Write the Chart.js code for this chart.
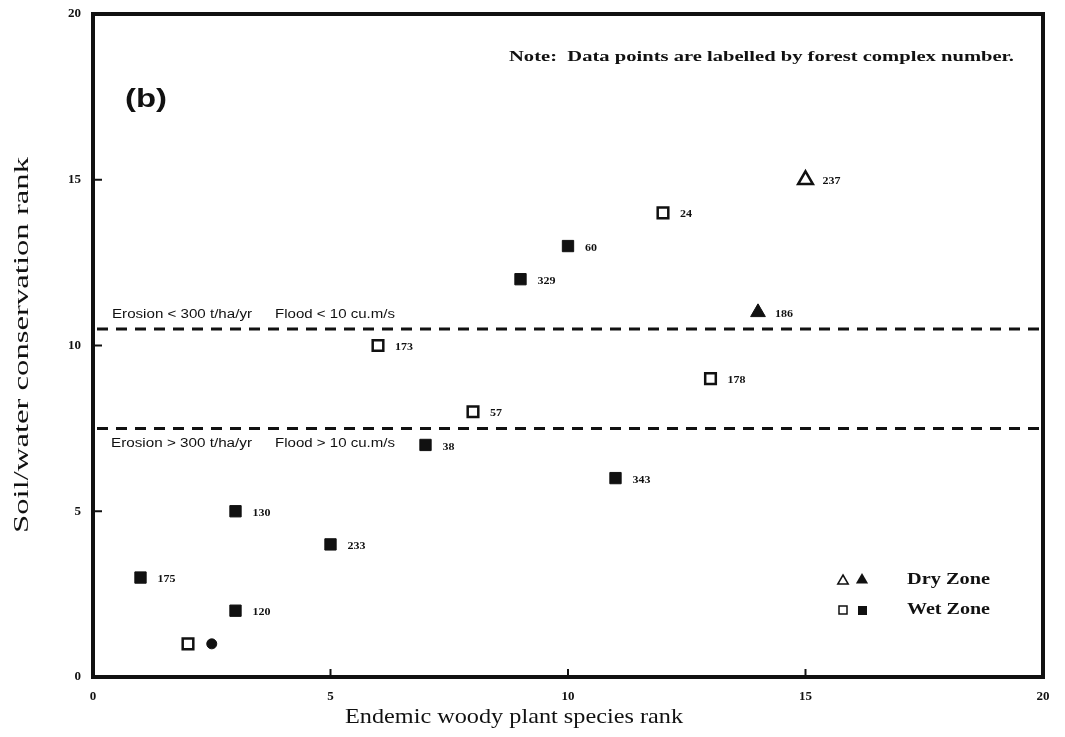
<!DOCTYPE html>
<html>
<head>
<meta charset="utf-8">
<script src="https://cdn.jsdelivr.net/npm/chart.js@4/dist/chart.umd.min.js"></script>
<style>
  html, body { margin: 0; padding: 0; background: #fff; }
  #wrap { width: 1065px; height: 737px; }
</style>
</head>
<body>
<div id="wrap"><canvas id="rankChart" width="1065" height="737"></canvas></div>
<script>
// Forest complexes: x = endemic woody plant species rank, y = soil/water conservation rank
const wetSolidX = [1, 3, 3, 5, 7, 9, 10, 11];
const wetSolidY = [3, 2, 5, 4, 7, 12, 13, 6];
const wetSolidLabels = ['175', '120', '130', '233', '38', '329', '60', '343'];

const wetOpenX = [2, 6, 8, 12, 13];
const wetOpenY = [1, 10, 8, 14, 9];
const wetOpenLabels = ['', '173', '57', '24', '178'];

const drySolidX = [14];
const drySolidY = [11];
const drySolidLabels = ['186'];

const dryOpenX = [15];
const dryOpenY = [15];
const dryOpenLabels = ['237'];

// unlabelled dark blob next to the open square at rank 1
const blobX = [2.5];
const blobY = [1];

const axisTicks = [0, 5, 10, 15, 20];
const upperThreshold = 10.5;
const lowerThreshold = 7.5;

const INK = '#111';
const SERIF = '"Liberation Serif", "DejaVu Serif", serif';
const SANS = '"Liberation Sans", Arial, sans-serif';

const toPoints = (xs, ys) => xs.map((x, i) => ({ x: x, y: ys[i] }));

/**
 * Draw text stretched horizontally so it covers a given width
 * (the scanned original uses a wide face)
 */
const fitText = (ctx, text, x, y, width, align = 'left') => {
  const w = ctx.measureText(text).width;
  ctx.save();
  ctx.translate(x, y);
  ctx.scale(width / w, 1);
  ctx.textAlign = align;
  ctx.fillText(text, 0, 0);
  ctx.restore();
};

/**
 * Frame, inward ticks, threshold lines and all the loose text
 */
const decorations = {
  id: 'decorations',
  afterDraw(chart) {
    const { ctx, chartArea: area, scales } = chart;
    const xs = scales.x;
    const ys = scales.y;
    ctx.save();

    // thick frame
    ctx.strokeStyle = INK;
    ctx.lineWidth = 4;
    ctx.strokeRect(area.left, area.top, area.right - area.left, area.bottom - area.top);

    // small inward tick marks
    ctx.lineWidth = 2;
    [5, 10, 15].forEach(v => {
      const px = xs.getPixelForValue(v);
      ctx.beginPath();
      ctx.moveTo(px, area.bottom);
      ctx.lineTo(px, area.bottom - 8);
      ctx.stroke();
      const py = ys.getPixelForValue(v);
      ctx.beginPath();
      ctx.moveTo(area.left, py);
      ctx.lineTo(area.left + 9, py);
      ctx.stroke();
    });

    // dashed threshold lines
    ctx.lineWidth = 3;
    ctx.setLineDash([11, 8]);
    [upperThreshold, lowerThreshold].forEach(v => {
      const py = ys.getPixelForValue(v);
      ctx.beginPath();
      ctx.moveTo(area.left + 4, py);
      ctx.lineTo(area.right, py);
      ctx.stroke();
    });
    ctx.setLineDash([]);

    // threshold captions
    ctx.fillStyle = INK;
    ctx.textBaseline = 'middle';
    ctx.textAlign = 'left';
    ctx.font = '12px ' + SANS;
    const upY = ys.getPixelForValue(upperThreshold) - 14;
    const loY = ys.getPixelForValue(lowerThreshold) + 15;
    fitText(ctx, 'Erosion < 300 t/ha/yr', 112, upY, 140);
    fitText(ctx, 'Flood < 10 cu.m/s', 275, upY, 120);
    fitText(ctx, 'Erosion > 300 t/ha/yr', 111, loY, 141);
    fitText(ctx, 'Flood > 10 cu.m/s', 275, loY, 120);

    // point labels
    ctx.font = 'bold 10px ' + SERIF;
    const labelSets = [[0, wetSolidLabels], [1, wetOpenLabels], [2, drySolidLabels], [3, dryOpenLabels]];
    labelSets.forEach(([idx, labels]) => {
      chart.getDatasetMeta(idx).data.forEach((pt, i) => {
        if (labels[i]) fitText(ctx, labels[i], pt.x + 17, pt.y + 2, labels[i].length * 6);
      });
    });

    // panel letter and note
    ctx.font = 'bold 25px ' + SANS;
    fitText(ctx, '(b)', 125, 100, 42);
    ctx.font = 'bold 15px ' + SERIF;
    fitText(ctx, 'Note:  Data points are labelled by forest complex number.', 509, 57, 505);

    // legend
    const drawTri = (x, y, r, filled) => {
      ctx.beginPath();
      ctx.moveTo(x, y - r);
      ctx.lineTo(x + r * 0.87, y + r * 0.5);
      ctx.lineTo(x - r * 0.87, y + r * 0.5);
      ctx.closePath();
      if (filled) ctx.fill(); else ctx.stroke();
    };
    ctx.lineWidth = 1.5;
    drawTri(843, 581, 6, false);
    drawTri(862, 580, 7, true);
    ctx.strokeRect(839, 606, 8, 8);
    ctx.fillRect(858, 606, 9, 9);
    ctx.font = 'bold 16px ' + SERIF;
    fitText(ctx, 'Dry Zone', 907, 580, 83);
    fitText(ctx, 'Wet Zone', 907, 610, 83);

    // axis titles, x one set a bit left of centre like the original
    ctx.font = '21px ' + SERIF;
    fitText(ctx, 'Endemic woody plant species rank', 514, 717, 338, 'center');
    ctx.save();
    ctx.translate(22, 345);
    ctx.rotate(-Math.PI / 2);
    fitText(ctx, 'Soil/water conservation rank', 0, 0, 376, 'center');
    ctx.restore();

    ctx.restore();
  }
};

const tickFont = { family: SERIF, size: 13, weight: 'bold' };

const rankChart = new Chart(document.getElementById('rankChart').getContext('2d'), {
  type: 'scatter',
  data: {
    datasets: [
      {
        label: 'Wet Zone (solid)',
        data: toPoints(wetSolidX, wetSolidY),
        pointStyle: 'rect',
        pointRadius: 8,
        backgroundColor: INK,
        borderColor: INK,
        borderWidth: 1
      },
      {
        label: 'Wet Zone (open)',
        data: toPoints(wetOpenX, wetOpenY),
        pointStyle: 'rect',
        pointRadius: 7.5,
        backgroundColor: '#fff',
        borderColor: INK,
        borderWidth: 2.5
      },
      {
        label: 'Dry Zone (solid)',
        data: toPoints(drySolidX, drySolidY),
        pointStyle: 'triangle',
        pointRadius: 8.5,
        backgroundColor: INK,
        borderColor: INK,
        borderWidth: 1
      },
      {
        label: 'Dry Zone (open)',
        data: toPoints(dryOpenX, dryOpenY),
        pointStyle: 'triangle',
        pointRadius: 8.5,
        backgroundColor: '#fff',
        borderColor: INK,
        borderWidth: 2.5
      },
      {
        label: 'blob',
        data: toPoints(blobX, blobY),
        pointStyle: 'circle',
        pointRadius: 5,
        backgroundColor: INK,
        borderColor: INK,
        borderWidth: 1
      }
    ]
  },
  options: {
    responsive: false,
    animation: false,
    devicePixelRatio: 1,
    layout: { padding: { top: 14, right: 22, left: 0, bottom: 0 } },
    plugins: {
      legend: { display: false },
      tooltip: { enabled: false }
    },
    scales: {
      x: {
        type: 'linear',
        min: 0,
        max: 20,
        grid: { display: false },
        border: { display: false },
        afterBuildTicks: s => { s.ticks = axisTicks.map(v => ({ value: v })); },
        afterFit: s => { s.height = 60; },
        ticks: { font: tickFont, color: INK, padding: 4, maxRotation: 0 }
      },
      y: {
        type: 'linear',
        min: 0,
        max: 20,
        grid: { display: false },
        border: { display: false },
        afterBuildTicks: s => { s.ticks = axisTicks.map(v => ({ value: v })); },
        afterFit: s => { s.width = 93; },
        ticks: { font: tickFont, color: INK, padding: 4 }
      }
    }
  },
  plugins: [decorations]
});
</script>
</body>
</html>
